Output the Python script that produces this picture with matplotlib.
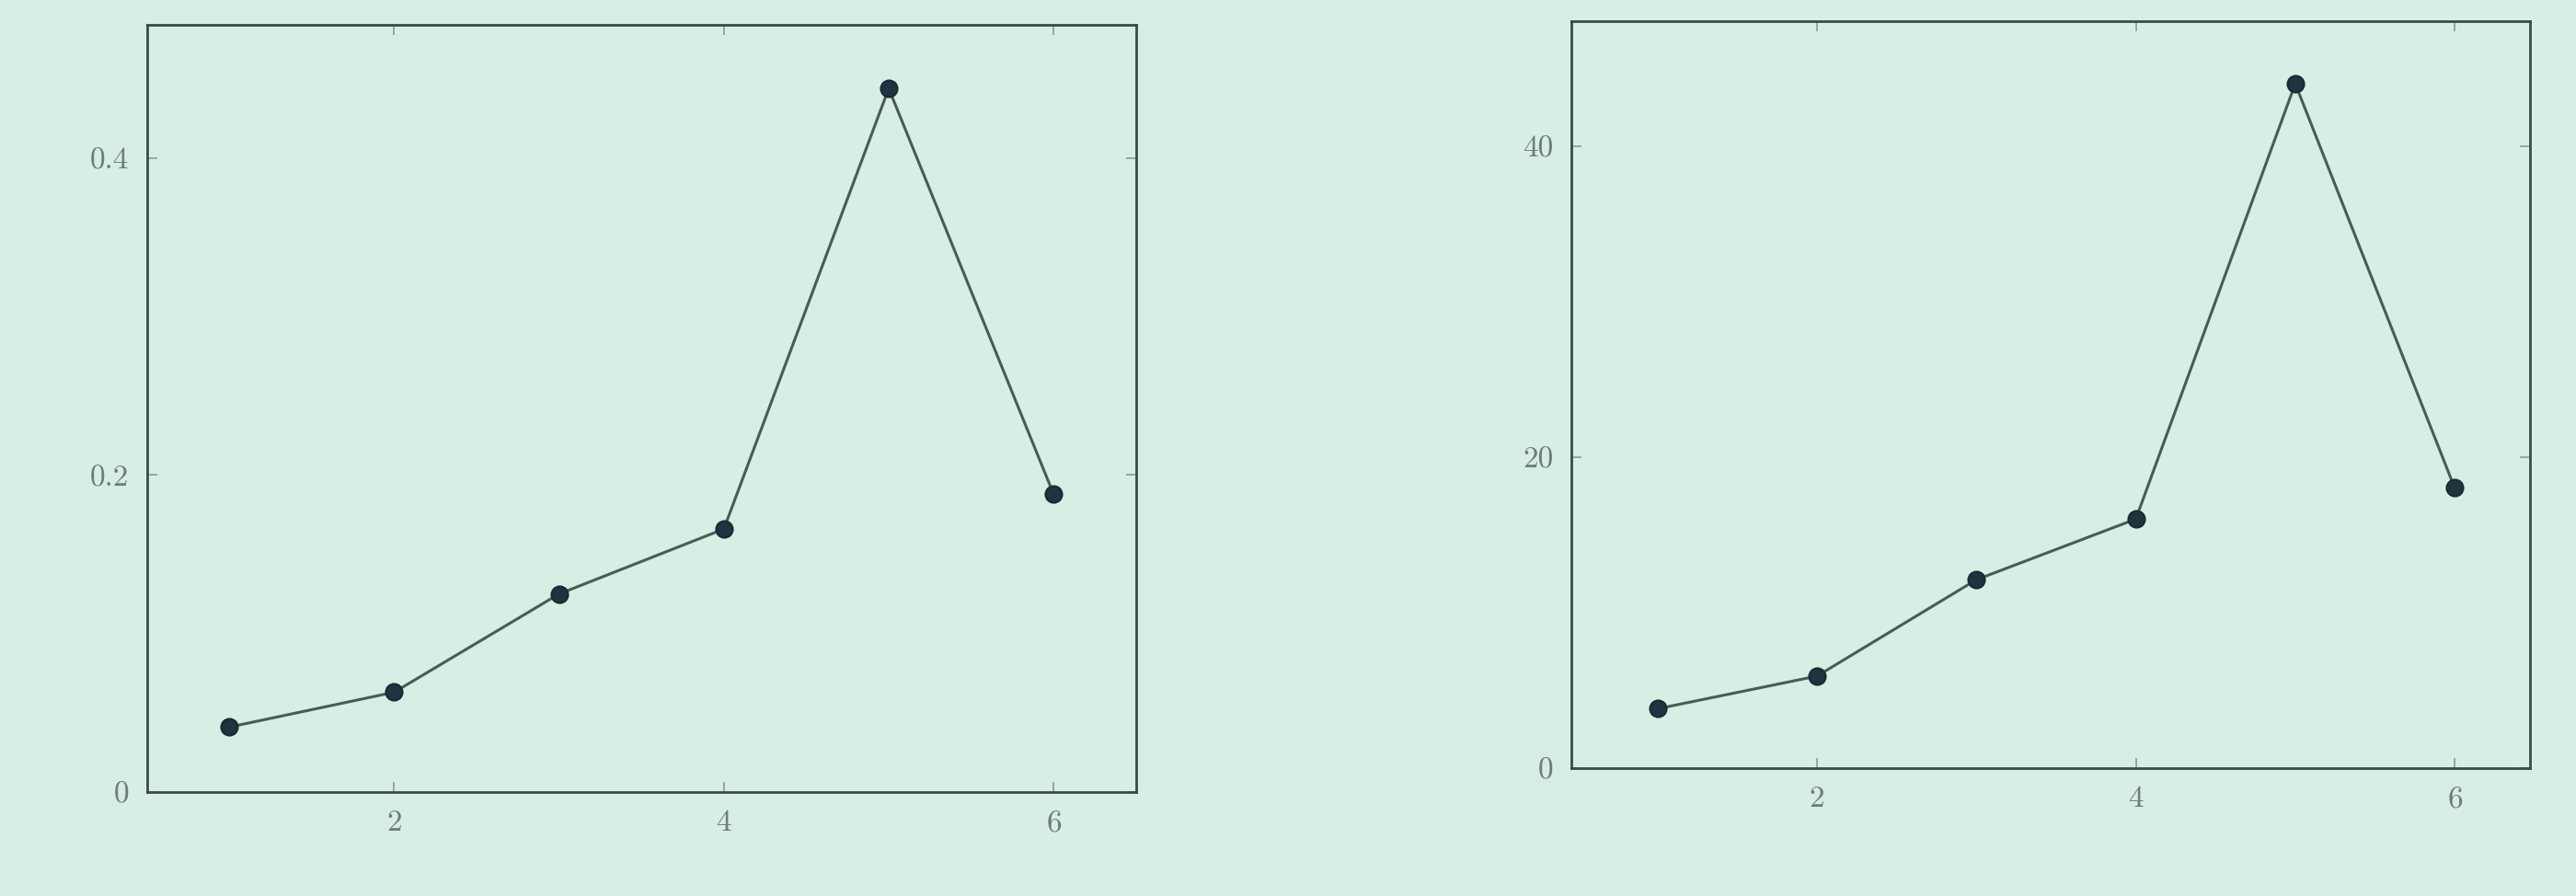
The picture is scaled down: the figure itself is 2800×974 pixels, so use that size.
import matplotlib.pyplot as plt
from matplotlib.ticker import FuncFormatter

plt.rcParams['font.family'] = ['cmr10', 'DejaVu Serif']
plt.rcParams['axes.formatter.use_mathtext'] = True

# data
x = [1, 2, 3, 4, 5, 6]
y_left = [0.041, 0.063, 0.125, 0.166, 0.444, 0.188]
y_right = [3.8, 5.9, 12.1, 16.0, 44.0, 18.0]

xticks = [2, 4, 6]
yticks_left = [0, 0.2, 0.4]
yticks_right = [0, 20, 40]

bg = "#d6eee4"
fig = plt.figure(figsize=(28, 9.74), dpi=100, facecolor=bg)

ax1 = fig.add_axes([0.057, 0.116, 0.384, 0.856])
ax2 = fig.add_axes([0.610, 0.143, 0.372, 0.833])


def fmt(v, pos):
    return f"{v:g}"


for ax, y, yt, xlim, ylim in [
    (ax1, y_left, yticks_left, (0.5, 6.5), (0, 0.484)),
    (ax2, y_right, yticks_right, (0.46, 6.47), (0, 48)),
]:
    ax.set_facecolor(bg)
    ax.plot(x, y, color="#4a5a58", linewidth=2.2,
            marker="o", markersize=13, markerfacecolor="#1f3340",
            markeredgecolor="#1a2a33", markeredgewidth=1.5)
    ax.set_xlim(*xlim)
    ax.set_ylim(*ylim)
    ax.set_xticks(xticks)
    ax.set_yticks(yt)
    ax.yaxis.set_major_formatter(FuncFormatter(fmt))
    ax.tick_params(direction="in", top=True, right=True, length=8,
                   width=1.2, colors="#8a9a96", labelsize=24, pad=14)
    for lab in ax.get_xticklabels() + ax.get_yticklabels():
        lab.set_color("#6f7c7a")
    for s in ax.spines.values():
        s.set_color("#3a4a48")
        s.set_linewidth(2)

fig.savefig("out.png", dpi=100, facecolor=bg)
